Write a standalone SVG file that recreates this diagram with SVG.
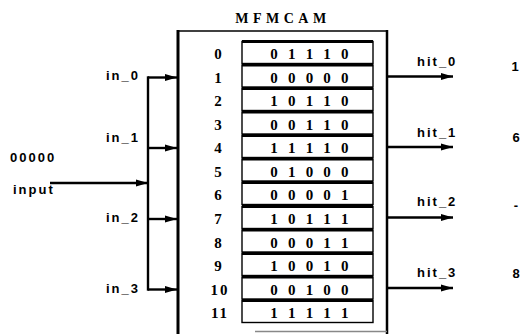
<svg xmlns="http://www.w3.org/2000/svg" width="524" height="334" viewBox="0 0 524 334">
  <style>
    .serif { font-family: "Liberation Serif", "Times New Roman", serif; font-weight: bold; fill: #000; }
    .sans { font-family: "Liberation Sans", Arial, sans-serif; font-weight: bold; fill: #000; }
    .idx { font-size: 15px; text-anchor: middle; letter-spacing: 2px; }
    .bits { font-size: 15px; text-anchor: middle; }
    .lbl { font-size: 13px; letter-spacing: 2px; }
    .cell { fill: #fff; stroke: #000; stroke-width: 1.4; }
    .cell-top { stroke: #000; stroke-width: 3; }
    .wire { stroke: #000; stroke-width: 2.4; fill: none; }
  </style>
  <defs>
    <marker id="arrow" viewBox="0 0 12 8" refX="12" refY="4" markerWidth="12" markerHeight="8" markerUnits="userSpaceOnUse" orient="auto">
      <path d="M0,0.5 L12,4 L0,7.5 Z" fill="#000"/>
    </marker>
  </defs>
  <rect width="524" height="334" fill="#fff"/>

  <!-- MFMCAM block -->
  <g id="mfmcam">
    <text class="serif" x="283" y="23" font-size="14" text-anchor="middle" letter-spacing="4.5">MFMCAM</text>
    <line x1="177" y1="31" x2="387" y2="31" stroke="#000" stroke-width="1.5"/>
    <line x1="178" y1="30" x2="178" y2="334" stroke="#000" stroke-width="3"/>
    <line x1="387" y1="30" x2="387" y2="334" stroke="#000" stroke-width="2.5"/>
    <line x1="255" y1="331.5" x2="387" y2="331.5" stroke="#888" stroke-width="1.5"/>
  </g>

  <!-- memory rows: index, stored word -->
  <g id="row-0"><rect class="cell" x="242" y="41.5" width="131" height="22"/><line class="cell-top" x1="242" y1="41.5" x2="373" y2="41.5"/><text class="serif idx" x="219" y="59">0</text><text class="serif bits" x="274 291.7 309.4 327.1 344.8" y="59">01110</text></g>
  <g id="row-1"><rect class="cell" x="242" y="65" width="131" height="22"/><line class="cell-top" x1="242" y1="65" x2="373" y2="65"/><text class="serif idx" x="219" y="82.5">1</text><text class="serif bits" x="274 291.7 309.4 327.1 344.8" y="82.5">00000</text></g>
  <g id="row-2"><rect class="cell" x="242" y="88.5" width="131" height="22"/><line class="cell-top" x1="242" y1="88.5" x2="373" y2="88.5"/><text class="serif idx" x="219" y="106">2</text><text class="serif bits" x="274 291.7 309.4 327.1 344.8" y="106">10110</text></g>
  <g id="row-3"><rect class="cell" x="242" y="112" width="131" height="22"/><line class="cell-top" x1="242" y1="112" x2="373" y2="112"/><text class="serif idx" x="219" y="129.5">3</text><text class="serif bits" x="274 291.7 309.4 327.1 344.8" y="129.5">00110</text></g>
  <g id="row-4"><rect class="cell" x="242" y="135.5" width="131" height="22"/><line class="cell-top" x1="242" y1="135.5" x2="373" y2="135.5"/><text class="serif idx" x="219" y="153">4</text><text class="serif bits" x="274 291.7 309.4 327.1 344.8" y="153">11110</text></g>
  <g id="row-5"><rect class="cell" x="242" y="159" width="131" height="22"/><line class="cell-top" x1="242" y1="159" x2="373" y2="159"/><text class="serif idx" x="219" y="176.5">5</text><text class="serif bits" x="274 291.7 309.4 327.1 344.8" y="176.5">01000</text></g>
  <g id="row-6"><rect class="cell" x="242" y="182.5" width="131" height="22"/><line class="cell-top" x1="242" y1="182.5" x2="373" y2="182.5"/><text class="serif idx" x="219" y="200">6</text><text class="serif bits" x="274 291.7 309.4 327.1 344.8" y="200">00001</text></g>
  <g id="row-7"><rect class="cell" x="242" y="206.5" width="131" height="22"/><line class="cell-top" x1="242" y1="206.5" x2="373" y2="206.5"/><text class="serif idx" x="219" y="224">7</text><text class="serif bits" x="274 291.7 309.4 327.1 344.8" y="224">10111</text></g>
  <g id="row-8"><rect class="cell" x="242" y="230" width="131" height="22"/><line class="cell-top" x1="242" y1="230" x2="373" y2="230"/><text class="serif idx" x="219" y="247.5">8</text><text class="serif bits" x="274 291.7 309.4 327.1 344.8" y="247.5">00011</text></g>
  <g id="row-9"><rect class="cell" x="242" y="253.5" width="131" height="22"/><line class="cell-top" x1="242" y1="253.5" x2="373" y2="253.5"/><text class="serif idx" x="219" y="271">9</text><text class="serif bits" x="274 291.7 309.4 327.1 344.8" y="271">10010</text></g>
  <g id="row-10"><rect class="cell" x="242" y="277" width="131" height="22"/><line class="cell-top" x1="242" y1="277" x2="373" y2="277"/><text class="serif idx" x="220" y="294.5">10</text><text class="serif bits" x="274 291.7 309.4 327.1 344.8" y="294.5">00100</text></g>
  <g id="row-11"><rect class="cell" x="242" y="300.5" width="131" height="22"/><line class="cell-top" x1="242" y1="300.5" x2="373" y2="300.5"/><text class="serif idx" x="220" y="318">11</text><text class="serif bits" x="274 291.7 309.4 327.1 344.8" y="318">11111</text></g>

  <!-- input word -->
  <g id="input">
    <text class="sans lbl" x="10" y="162" letter-spacing="3.5">00000</text>
    <text class="sans lbl" x="13" y="194" letter-spacing="4">input</text>
  </g>

  <!-- input bus fanning out to rows 1, 4, 7, 10 -->
  <g id="connectors">
    <line class="wire" x1="148" y1="76.3" x2="148" y2="290.7"/>
    <line class="wire" x1="50" y1="183" x2="148" y2="183" marker-end="url(#arrow)"/>
    <line class="wire" x1="148" y1="77.5" x2="177" y2="77.5" marker-end="url(#arrow)"/>
    <line class="wire" x1="148" y1="148" x2="177" y2="148" marker-end="url(#arrow)"/>
    <line class="wire" x1="148" y1="219" x2="177" y2="219" marker-end="url(#arrow)"/>
    <line class="wire" x1="148" y1="289.5" x2="177" y2="289.5" marker-end="url(#arrow)"/>
    <line class="wire" x1="387" y1="76.5" x2="453" y2="76.5" marker-end="url(#arrow)"/>
    <line class="wire" x1="387" y1="147" x2="453" y2="147" marker-end="url(#arrow)"/>
    <line class="wire" x1="387" y1="217.5" x2="453" y2="217.5" marker-end="url(#arrow)"/>
    <line class="wire" x1="387" y1="288" x2="453" y2="288" marker-end="url(#arrow)"/>
  </g>

  <!-- input line labels -->
  <g id="in-labels">
    <text class="sans lbl" x="140" y="80" text-anchor="end">in_0</text>
    <text class="sans lbl" x="140" y="142" text-anchor="end">in_1</text>
    <text class="sans lbl" x="140" y="222" text-anchor="end">in_2</text>
    <text class="sans lbl" x="140" y="293" text-anchor="end">in_3</text>
  </g>

  <!-- hit outputs with their values -->
  <g id="hit-0"><text class="sans lbl" x="417" y="66">hit_0</text><text class="sans lbl" x="516" y="71" text-anchor="middle">1</text></g>
  <g id="hit-1"><text class="sans lbl" x="417" y="137">hit_1</text><text class="sans lbl" x="517" y="142" text-anchor="middle">6</text></g>
  <g id="hit-2"><text class="sans lbl" x="417" y="206">hit_2</text><text class="sans lbl" x="517" y="210" text-anchor="middle">-</text></g>
  <g id="hit-3"><text class="sans lbl" x="417" y="277">hit_3</text><text class="sans lbl" x="517" y="278" text-anchor="middle">8</text></g>
</svg>
